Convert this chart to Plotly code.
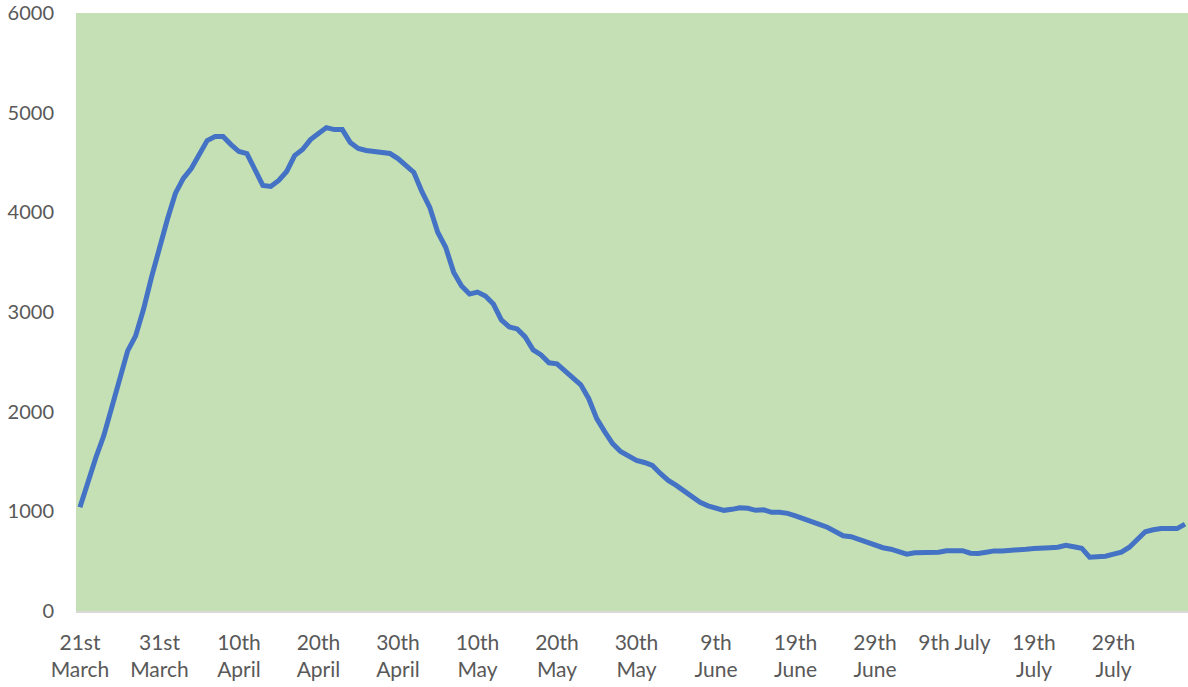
import pandas as pd
import plotly.graph_objects as go

start_date = "2020-03-21"

# daily values, 21 March to 7 August
cases = [
    1040, 1300, 1540, 1760, 2050, 2350, 2610, 2760, 3030, 3350,
    3660, 3930, 4190, 4340, 4440, 4590, 4720, 4760, 4760, 4680,
    4610, 4590, 4430, 4270, 4260, 4320, 4410, 4570, 4630, 4730,
    4790, 4850, 4830, 4830, 4700, 4640, 4620, 4610, 4610, 4590,
    4540, 4470, 4400, 4210, 4050, 3800, 3650, 3400, 3260, 3180,
    3200, 3160, 3080, 2920, 2850, 2830, 2750, 2620, 2570, 2490,
    2480, 2410, 2340, 2270, 2130, 1930, 1800, 1680, 1600, 1550,
    1510, 1490, 1460, 1380, 1310, 1260, 1200, 1140, 1090, 1055,
    1030, 1010, 1020, 1035, 1030, 1010, 1015, 990, 990, 980,
    955, 930, 905, 870, 840, 800, 755, 745, 715, 685,
    655, 635, 620, 600, 570, 585, 585, 583, 590, 605,
    603, 605, 580, 578, 590, 603, 603, 605, 612, 620,
    628, 637, 635, 640, 660, 645, 630, 540, 543, 550,
    570, 590, 640, 720, 795, 815, 828, 828, 827, 872,
]

tick_dates = [
    "2020-03-21", "2020-03-31", "2020-04-10", "2020-04-20", "2020-04-30",
    "2020-05-10", "2020-05-20", "2020-05-30", "2020-06-09", "2020-06-19",
    "2020-06-29", "2020-07-09", "2020-07-19", "2020-07-29",
]
tick_labels = [
    "21st<br>March", "31st<br>March", "10th<br>April", "20th<br>April",
    "30th<br>April", "10th<br>May", "20th<br>May", "30th<br>May",
    "9th<br>June", "19th<br>June", "29th<br>June", "9th July",
    "19th<br>July", "29th<br>July",
]
y_ticks = [0, 1000, 2000, 3000, 4000, 5000, 6000]

dates = pd.date_range(start_date, periods=len(cases), freq="D")

fig = go.Figure()

fig.add_trace(
    go.Scatter(
        x=dates,
        y=cases,
        mode="lines",
        line=dict(color="#4472C4", width=5),
        cliponaxis=False,
        hoverinfo="x+y"
    )
)

fig.update_layout(
    width=1188,
    height=687,
    margin=dict(l=76, r=0, t=13, b=76),
    paper_bgcolor="white",
    plot_bgcolor="#C5E0B4",
    showlegend=False,
    font=dict(family="Lato, Open Sans, sans-serif", size=21, color="#595959")
)

fig.update_xaxes(
    range=["2020-03-20 12:00", "2020-08-07 09:00"],
    tickvals=tick_dates,
    ticktext=tick_labels,
    showgrid=False,
    zeroline=False,
    showline=True,
    linecolor="#D9D9D9",
    linewidth=1.5,
    ticks="",
    ticklabelstandoff=12,
    ticklabeloverflow="allow",
    automargin=False
)

fig.update_yaxes(
    range=[0, 6000],
    tickvals=y_ticks,
    tickfont=dict(size=20),
    showgrid=False,
    zeroline=False,
    showline=False,
    ticks="",
    ticklabelstandoff=21,
    ticklabeloverflow="allow",
    automargin=False
)

# page body has a default 8px margin, drop it so the figure fills the window
fig.write_html(
    "out.html",
    config={"displayModeBar": False},
    post_script="document.body.style.margin = '0';"
)
